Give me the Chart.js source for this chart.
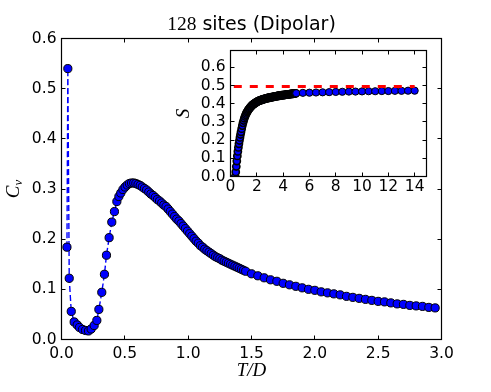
<!DOCTYPE html>
<html>
<head>
<meta charset="utf-8">
<script src="https://cdn.jsdelivr.net/npm/chart.js@4"></script>
<style>
  html, body { margin: 0; padding: 0; background: #fff; }
  #wrap { position: relative; width: 491px; height: 392px; }
  canvas { position: absolute; left: 0; top: 0; }
</style>
</head>
<body>
<div id="wrap">
  <canvas id="main" width="491" height="392"></canvas>
  <canvas id="inset" width="491" height="392"></canvas>
</div>
<script>
// main panel: specific heat vs T/D
const mainT = [
  0.043, 0.050, 0.061, 0.077, 0.100, 0.124, 0.142, 0.166, 0.190, 0.213,
  0.234, 0.258, 0.279, 0.295, 0.318, 0.339, 0.355, 0.376, 0.397, 0.418,
  0.437, 0.453, 0.468, 0.485, 0.502, 0.519, 0.536, 0.553, 0.570, 0.587,
  0.604, 0.621, 0.638, 0.655, 0.672, 0.689, 0.706, 0.723, 0.740, 0.757,
  0.774, 0.791, 0.808, 0.825, 0.842, 0.859, 0.876, 0.893, 0.910, 0.927,
  0.944, 0.961, 0.978, 0.995, 1.012, 1.029, 1.046, 1.063, 1.080, 1.097,
  1.114, 1.131, 1.148, 1.165, 1.182, 1.199, 1.216, 1.233, 1.250, 1.267,
  1.284, 1.301, 1.318, 1.335, 1.352, 1.369, 1.386, 1.403, 1.420, 1.437,
  1.454, 1.500, 1.550, 1.600, 1.650, 1.700, 1.750, 1.800, 1.850, 1.900,
  1.950, 2.000, 2.050, 2.100, 2.150, 2.200, 2.250, 2.300, 2.350, 2.400,
  2.450, 2.500, 2.550, 2.600, 2.650, 2.700, 2.750, 2.800, 2.850, 2.900,
  2.950
];
const mainCv = [
  0.184, 0.540, 0.122, 0.056, 0.035, 0.029, 0.024, 0.020, 0.018, 0.017,
  0.021, 0.028, 0.038, 0.060, 0.094, 0.130, 0.168, 0.203, 0.234, 0.255,
  0.275, 0.285, 0.292, 0.299, 0.304, 0.308, 0.311, 0.312, 0.312, 0.311,
  0.309, 0.307, 0.304, 0.301, 0.298, 0.294, 0.290, 0.287, 0.283, 0.279,
  0.276, 0.272, 0.268, 0.265, 0.260, 0.255, 0.250, 0.245, 0.240, 0.236,
  0.231, 0.226, 0.221, 0.216, 0.211, 0.206, 0.201, 0.196, 0.192, 0.187,
  0.184, 0.180, 0.177, 0.174, 0.171, 0.168, 0.165, 0.163, 0.161, 0.158,
  0.156, 0.154, 0.152, 0.150, 0.148, 0.146, 0.144, 0.142, 0.140, 0.138,
  0.136, 0.131, 0.127, 0.123, 0.119, 0.116, 0.112, 0.109, 0.106, 0.103,
  0.100, 0.098, 0.095, 0.093, 0.091, 0.089, 0.086, 0.084, 0.082, 0.080,
  0.078, 0.076, 0.075, 0.073, 0.071, 0.070, 0.068, 0.067, 0.066, 0.064,
  0.063
];

// inset: entropy vs T/D
const insetT = [
  0.36, 0.40, 0.44, 0.48, 0.52, 0.56, 0.60, 0.64, 0.68, 0.72,
  0.76, 0.80, 0.85, 0.90, 0.95,
  1.00, 1.05, 1.10, 1.15, 1.20, 1.25, 1.30, 1.35, 1.40, 1.45,
  1.50, 1.55, 1.60, 1.65, 1.70, 1.75, 1.80, 1.85, 1.90, 1.95,
  2.00, 2.05, 2.10, 2.15, 2.20, 2.25, 2.30, 2.35, 2.40, 2.45,
  2.50, 2.55, 2.60, 2.65, 2.70, 2.75, 2.80, 2.85, 2.90, 2.95,
  3.00, 3.05, 3.10, 3.15, 3.20, 3.25, 3.30, 3.35, 3.40, 3.45,
  3.50, 3.55, 3.60, 3.65, 3.70, 3.75, 3.80, 3.85, 3.90, 3.95,
  4.00, 4.05, 4.10, 4.15, 4.20, 4.25, 4.30, 4.35, 4.40, 4.45,
  4.50, 4.55, 4.60, 4.65, 4.70, 4.75, 4.80, 4.85, 4.90, 4.95,
  5.0, 5.5, 6.0, 6.5, 7.0, 7.5, 8.0, 8.5, 9.0, 9.5,
  10.0, 10.5, 11.0, 11.5, 12.0, 12.5, 13.0, 13.5, 14.0
];
const insetS = [
  0.000, 0.025, 0.055, 0.085, 0.113, 0.138, 0.160, 0.180, 0.198, 0.215,
  0.231, 0.246, 0.263, 0.280, 0.295,
  0.308, 0.320, 0.330, 0.339, 0.347, 0.354, 0.360, 0.366, 0.371, 0.376,
  0.380, 0.384, 0.388, 0.392, 0.395, 0.398, 0.400, 0.403, 0.405, 0.408,
  0.410, 0.412, 0.414, 0.416, 0.417, 0.419, 0.420, 0.421, 0.422, 0.424,
  0.425, 0.426, 0.427, 0.428, 0.429, 0.430, 0.431, 0.432, 0.433, 0.433,
  0.434, 0.435, 0.436, 0.437, 0.437, 0.438, 0.439, 0.440, 0.440, 0.441,
  0.442, 0.442, 0.443, 0.444, 0.444, 0.445, 0.446, 0.446, 0.447, 0.447,
  0.448, 0.448, 0.449, 0.449, 0.450, 0.450, 0.451, 0.451, 0.452, 0.452,
  0.453, 0.453, 0.454, 0.454, 0.455, 0.455, 0.456, 0.456, 0.457, 0.457,
  0.458, 0.460, 0.461, 0.462, 0.463, 0.464, 0.465, 0.466, 0.467, 0.467,
  0.468, 0.469, 0.469, 0.470, 0.470, 0.471, 0.471, 0.472, 0.472
];
const limitT = [0.25, 14.0];
const limitS = [0.495, 0.495];

const mainXTicks = [0, 0.5, 1.0, 1.5, 2.0, 2.5, 3.0];
const mainYTicks = [0, 0.1, 0.2, 0.3, 0.4, 0.5, 0.6];
const insetXTicks = [0, 2, 4, 6, 8, 10, 12, 14];
const insetYTicks = [0, 0.1, 0.2, 0.3, 0.4, 0.5, 0.6];

Chart.defaults.font.family = '"DejaVu Sans", sans-serif';
Chart.defaults.font.size = 15.5;
Chart.defaults.color = '#000';

function pts(xs, ys) {
  return xs.map((x, i) => ({ x: x, y: ys[i] }));
}

// frame on all four sides with short ticks pointing inward, matplotlib style
function frameAndTicks(xTicks, yTicks, len, fillWhite) {
  return {
    id: 'frame',
    beforeDatasetsDraw(chart) {
      if (!fillWhite) return;
      const a = chart.chartArea;
      const ctx = chart.ctx;
      ctx.save();
      ctx.fillStyle = '#fff';
      ctx.fillRect(a.left, a.top, a.right - a.left, a.bottom - a.top);
      ctx.restore();
    },
    afterDatasetsDraw(chart) {
      const a = chart.chartArea;
      const ctx = chart.ctx;
      const xs = chart.scales.x, ys = chart.scales.y;
      ctx.save();
      ctx.strokeStyle = '#000';
      ctx.lineWidth = 1;
      ctx.beginPath();
      xTicks.forEach(v => {
        const px = Math.round(xs.getPixelForValue(v) - 0.5) + 0.5;
        ctx.moveTo(px, a.bottom); ctx.lineTo(px, a.bottom - len);
        ctx.moveTo(px, a.top); ctx.lineTo(px, a.top + len);
      });
      yTicks.forEach(v => {
        const py = Math.round(ys.getPixelForValue(v) - 0.5) + 0.5;
        ctx.moveTo(a.left, py); ctx.lineTo(a.left + len, py);
        ctx.moveTo(a.right, py); ctx.lineTo(a.right - len, py);
      });
      ctx.stroke();
      ctx.lineWidth = 1.2;
      ctx.strokeRect(a.left, a.top, a.right - a.left, a.bottom - a.top);
      ctx.restore();
    }
  };
}

function axisOpts(min, max, ticks, digits, size, pad) {
  return {
    type: 'linear',
    min: min,
    max: max,
    grid: { display: false, drawTicks: false },
    border: { display: false },
    afterBuildTicks(scale) { scale.ticks = ticks.map(v => ({ value: v })); },
    ticks: {
      autoSkip: false,
      maxRotation: 0,
      padding: pad,
      callback: v => Number(v).toFixed(digits)
    },
    afterFit(scale) {
      if (scale.isHorizontal()) scale.height = size; else scale.width = size;
    }
  };
}

const labelsPlugin = {
  id: 'labels',
  afterDraw(chart) {
    const ctx = chart.ctx;
    ctx.save();
    ctx.fillStyle = '#000';
    ctx.textBaseline = 'alphabetic';
    // title: "128" in math font, rest in sans
    const part1 = '128';
    const part2 = ' sites (Dipolar)';
    ctx.font = '19.5px "Liberation Serif"';
    const w1 = ctx.measureText(part1).width;
    ctx.font = '19px "DejaVu Sans"';
    const w2 = ctx.measureText(part2).width;
    const cx = (chart.chartArea.left + chart.chartArea.right) / 2;
    let x0 = cx - (w1 + w2) / 2;
    ctx.textAlign = 'left';
    ctx.font = '19.5px "Liberation Serif"';
    ctx.fillText(part1, x0, 30);
    ctx.font = '19px "DejaVu Sans"';
    ctx.fillText(part2, x0 + w1, 30);

    // x label T/D
    ctx.font = 'italic 19px "Liberation Serif"';
    ctx.textAlign = 'center';
    ctx.fillText('T/D', cx, 376);

    // y label C_v
    const cy = (chart.chartArea.top + chart.chartArea.bottom) / 2;
    ctx.translate(19, cy);
    ctx.rotate(-Math.PI / 2);
    ctx.font = 'italic 19px "Liberation Serif"';
    const wc = ctx.measureText('C').width;
    ctx.font = 'italic 13px "Liberation Serif"';
    const wv = ctx.measureText('v').width;
    ctx.textAlign = 'left';
    ctx.font = 'italic 19px "Liberation Serif"';
    ctx.fillText('C', -(wc + wv) / 2, 0);
    ctx.font = 'italic 13px "Liberation Serif"';
    ctx.fillText('v', -(wc + wv) / 2 + wc, 3);
    ctx.restore();
  }
};

const insetLabelPlugin = {
  id: 'insetLabel',
  afterDraw(chart) {
    const ctx = chart.ctx;
    const a = chart.chartArea;
    ctx.save();
    ctx.fillStyle = '#000';
    ctx.translate(189, (a.top + a.bottom) / 2);
    ctx.rotate(-Math.PI / 2);
    ctx.font = 'italic 19px "Liberation Serif"';
    ctx.textAlign = 'center';
    ctx.textBaseline = 'alphabetic';
    ctx.fillText('S', 0, 0);
    ctx.restore();
  }
};

// main chart area: left 61.5, top 38.5, right 441.5, bottom 339.5
new Chart(document.getElementById('main'), {
  type: 'scatter',
  data: {
    datasets: [{
      data: pts(mainT, mainCv),
      showLine: true,
      borderColor: '#0000ff',
      borderWidth: 1.4,
      borderDash: [6, 3],
      pointRadius: 4.1,
      pointHoverRadius: 4.1,
      pointBackgroundColor: '#0000ff',
      pointBorderColor: '#000',
      pointBorderWidth: 1
    }]
  },
  options: {
    responsive: false,
    devicePixelRatio: 1,
    animation: false,
    layout: { padding: { left: 11.5, top: 38.5, right: 49.5, bottom: 12.5 } },
    scales: {
      x: axisOpts(0, 3, mainXTicks, 1, 40, 5),
      y: axisOpts(0, 0.6, mainYTicks, 1, 50, 5)
    },
    plugins: { legend: { display: false }, tooltip: { enabled: false } }
  },
  plugins: [frameAndTicks(mainXTicks, mainYTicks, 4, false), labelsPlugin]
});

// inset chart area: left 230.5, top 50.5, right 426.5, bottom 176.5
new Chart(document.getElementById('inset'), {
  type: 'scatter',
  data: {
    datasets: [{
      data: pts(limitT, limitS),
      showLine: true,
      borderColor: '#ff0000',
      borderWidth: 3,
      borderDash: [8, 8],
      pointRadius: 0,
      pointHoverRadius: 0
    }, {
      data: pts(insetT, insetS),
      showLine: false,
      pointRadius: 3.6,
      pointHoverRadius: 3.6,
      pointBackgroundColor: '#0000ff',
      pointBorderColor: '#000',
      // the tightly packed markers below T=5 merge into a dark band
      pointBorderWidth: c => (insetT[c.dataIndex] < 4.99 ? 1.6 : 1)
    }]
  },
  options: {
    responsive: false,
    devicePixelRatio: 1,
    animation: false,
    layout: { padding: { left: 190.5, top: 50.5, right: 64.5, bottom: 185.5 } },
    scales: {
      x: axisOpts(0, 14.9, insetXTicks, 0, 30, 1),
      y: axisOpts(0, 0.693, insetYTicks, 1, 40, 5)
    },
    plugins: { legend: { display: false }, tooltip: { enabled: false } }
  },
  plugins: [frameAndTicks(insetXTicks, insetYTicks, 4, true), insetLabelPlugin]
});
</script>
</body>
</html>
